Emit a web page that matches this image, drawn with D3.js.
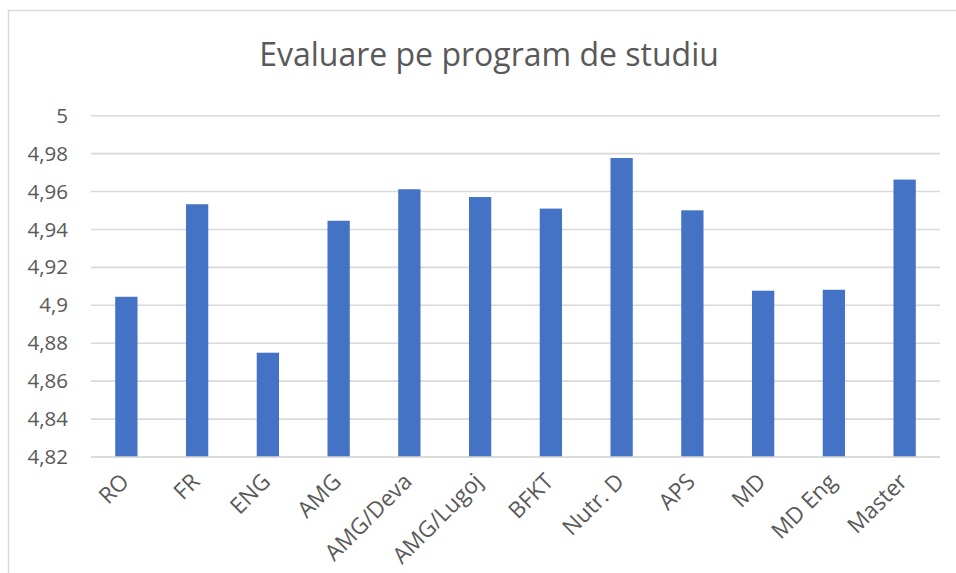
<!DOCTYPE html>
<html>
<head>
<meta charset="utf-8">
<script src="https://cdn.jsdelivr.net/npm/d3@7"></script>
<style>
  html, body { margin: 0; padding: 0; background: #ffffff; }
  svg { display: block; }
</style>
</head>
<body>
<svg id="chart" width="956" height="573"></svg>
<script>
const title = "Evaluare pe program de studiu";
const categories = ["RO", "FR", "ENG", "AMG", "AMG/Deva", "AMG/Lugoj", "BFKT", "Nutr. D", "APS", "MD", "MD Eng", "Master"];
const values = [4.9045, 4.9533, 4.875, 4.9446, 4.9612, 4.9571, 4.951, 4.9777, 4.9501, 4.9077, 4.9082, 4.9663];
const yTicks = [4.82, 4.84, 4.86, 4.88, 4.9, 4.92, 4.94, 4.96, 4.98, 5];

const W = 956, H = 573;
const plot = { left: 91, right: 940, top: 115.7, bottom: 457 };
const FONT = "'Open Sans', 'Noto Sans', sans-serif";
const TEXT_COLOR = "#595959";
const GRID = "#d9d9d9";
const BAR = "#4472C4";

const svg = d3.select("#chart");

// chart border
svg.append("rect")
  .attr("x", 8.5).attr("y", 10.5)
  .attr("width", W + 20).attr("height", H + 20)
  .attr("fill", "#ffffff")
  .attr("stroke", GRID).attr("stroke-width", 1.5);

const x = d3.scaleBand()
  .domain(categories)
  .range([plot.left, plot.right])
  .paddingInner(0.685)
  .paddingOuter(0.3425);

const y = d3.scaleLinear()
  .domain([4.82, 5])
  .range([plot.bottom, plot.top]);

// gridlines
svg.append("g")
  .selectAll("line")
  .data(yTicks)
  .join("line")
  .attr("x1", plot.left).attr("x2", plot.right)
  .attr("y1", d => y(d)).attr("y2", d => y(d))
  .attr("stroke", GRID).attr("stroke-width", 1.6);

// y axis labels
const yAxis = d3.axisLeft(y)
  .tickValues(yTicks)
  .tickSize(0)
  .tickPadding(0)
  .tickFormat(d => d3.format("~g")(d).replace(".", ","));

const yG = svg.append("g")
  .attr("transform", `translate(${68},0)`)
  .call(yAxis);
yG.select(".domain").remove();
yG.selectAll("text")
  .attr("font-family", FONT)
  .attr("font-size", 20.5)
  .attr("fill", TEXT_COLOR);

// bars
svg.append("g")
  .selectAll("rect")
  .data(categories.map((c, i) => ({ c, v: values[i] })))
  .join("rect")
  .attr("x", d => x(d.c))
  .attr("width", x.bandwidth())
  .attr("y", d => y(d.v))
  .attr("height", d => y(4.82) - y(d.v))
  .attr("fill", BAR);

// x axis line
svg.append("line")
  .attr("x1", plot.left).attr("x2", plot.right)
  .attr("y1", plot.bottom).attr("y2", plot.bottom)
  .attr("stroke", GRID).attr("stroke-width", 1.6);

// x labels
const xAxis = d3.axisBottom(x).tickSize(0).tickPadding(0);
const xG = svg.append("g")
  .attr("transform", `translate(0,${plot.bottom})`)
  .call(xAxis);
xG.select(".domain").remove();
xG.selectAll(".tick text")
  .attr("font-family", FONT)
  .attr("font-size", 22.5)
  .attr("fill", TEXT_COLOR)
  .attr("text-anchor", "end")
  .attr("dy", null)
  .attr("y", null)
  .attr("transform", "translate(4,26) rotate(-45)");

// title
const t = svg.append("text")
  .attr("x", 489)
  .attr("y", 66)
  .attr("text-anchor", "middle")
  .attr("font-family", FONT)
  .attr("font-size", 30)
  .attr("fill", TEXT_COLOR)
  .text(title);
const tw = t.node().getComputedTextLength();
t.attr("font-size", 30 * 460 / tw);
</script>
</body>
</html>
